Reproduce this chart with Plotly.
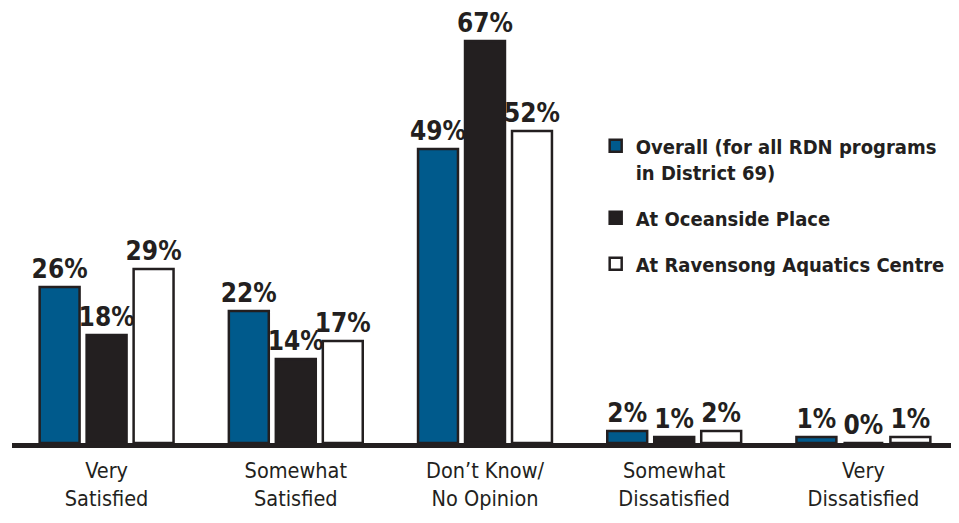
import plotly.graph_objects as go

categories = ["Very<br>Satisfied", "Somewhat<br>Satisfied", "Don\u2019t Know/<br>No Opinion",
              "Somewhat<br>Dissatisfied", "Very<br>Dissatisfied"]
series_names = ["Overall (for all RDN programs<br>in District 69)", "At Oceanside Place",
                "At Ravensong Aquatics Centre"]
overall = [26, 22, 49, 2, 1]
oceanside = [18, 14, 67, 1, 0]
ravensong = [29, 17, 52, 2, 1]

FONT = "DejaVu Sans Condensed, sans-serif"
INK = "#231f20"
fills = ["#005a8c", INK, "#ffffff"]

fig = go.Figure()
for i, (name, vals, col) in enumerate(zip(series_names, [overall, oceanside, ravensong], fills)):
    fig.add_trace(go.Bar(
        x=categories, y=vals, name=name, legendgroup=f"g{i}",
        marker=dict(color=col, line=dict(color=INK, width=2.5)),
        text=[f"{v}%" for v in vals], textposition="outside",
        textfont=dict(family=FONT, size=26, color=INK, weight="bold"),
        constraintext="none", cliponaxis=False,
    ))

fig.update_layout(
    width=950, height=515,
    margin=dict(l=4, r=0, t=0, b=80, autoexpand=False),
    plot_bgcolor="white", paper_bgcolor="white",
    barmode="group", bargap=0.255, bargroupgap=0.15,
    font=dict(family=FONT, color=INK),
    showlegend=True,
    legend=dict(x=0.617, y=0.728, xanchor="left", yanchor="top",
                font=dict(family=FONT, size=20, color=INK, weight="bold"),
                bgcolor="rgba(0,0,0,0)", itemwidth=30, tracegroupgap=17,
                traceorder="grouped", valign="top"),
    xaxis=dict(showline=True, linecolor=INK, linewidth=5, ticks="", automargin=False,
               tickfont=dict(family=FONT, size=21.5, color=INK), ticklabelstandoff=4,
               showgrid=False, zeroline=False),
    yaxis=dict(range=[0, 72.5], visible=False, showgrid=False, zeroline=False,
               automargin=False),
)

fig.write_html("out.html")
